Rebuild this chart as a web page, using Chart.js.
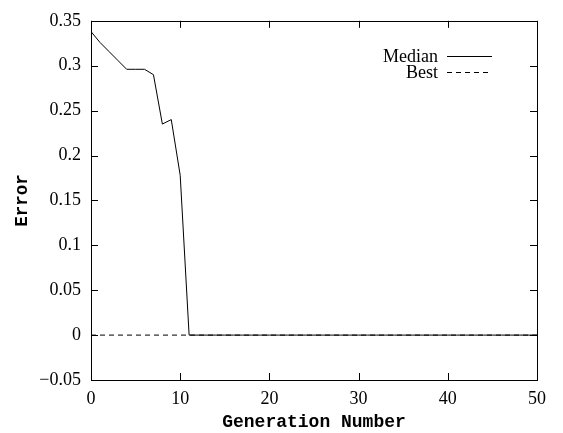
<!DOCTYPE html>
<html>
<head>
<meta charset="utf-8">
<script src="https://cdn.jsdelivr.net/npm/chart.js@4.4.1/dist/chart.umd.min.js"></script>
<style>
  html, body { margin: 0; padding: 0; background: #fff; }
  #wrap { width: 563px; height: 433px; }
</style>
</head>
<body>
<div id="wrap"><canvas id="errChart" width="563" height="433"></canvas></div>
<script>
const generations = [0, 1, 2, 3, 4, 5, 6, 7, 8, 9, 10, 11, 12, 13, 14, 15, 16, 17, 18, 19, 20,
    21, 22, 23, 24, 25, 26, 27, 28, 29, 30, 31, 32, 33, 34, 35, 36, 37, 38, 39, 40,
    41, 42, 43, 44, 45, 46, 47, 48, 49, 50];

const medianError = [0.338, 0.326, 0.316, 0.306, 0.296, 0.296, 0.296, 0.290, 0.235, 0.240, 0.178, 0,
    0, 0, 0, 0, 0, 0, 0, 0, 0, 0, 0, 0, 0, 0, 0, 0, 0, 0, 0,
    0, 0, 0, 0, 0, 0, 0, 0, 0, 0, 0, 0, 0, 0, 0, 0, 0, 0, 0, 0];

const bestError = [0, 0, 0, 0, 0, 0, 0, 0, 0, 0, 0, 0,
    0, 0, 0, 0, 0, 0, 0, 0, 0, 0, 0, 0, 0, 0, 0, 0, 0, 0, 0,
    0, 0, 0, 0, 0, 0, 0, 0, 0, 0, 0, 0, 0, 0, 0, 0, 0, 0, 0, 0];

const seriesNames = ["Median", "Best"];
const xTitle = "Generation Number";
const yTitle = "Error";

const serif = "'Liberation Serif', 'Times New Roman', serif";
const mono = "'Liberation Mono', 'Courier New', monospace";

Chart.defaults.font.family = serif;
Chart.defaults.font.size = 18;
Chart.defaults.color = '#000';

const toPoints = (ys) => generations.map((g, i) => ({ x: g, y: ys[i] }));

// box round the plot with inward ticks on all four sides, plus the gnuplot-style key
const framePlugin = {
    id: 'frame',
    afterDatasetsDraw(chart) {
        const ctx = chart.ctx;
        const a = chart.chartArea;
        const xs = chart.scales.x, ys = chart.scales.y;
        const tl = 7;
        ctx.save();
        ctx.strokeStyle = '#000';
        ctx.lineWidth = 1;
        ctx.setLineDash([]);
        ctx.beginPath();
        xs.ticks.forEach(t => {
            const px = Math.round(xs.getPixelForValue(t.value)) + 0.5;
            ctx.moveTo(px, a.bottom); ctx.lineTo(px, a.bottom - tl);
            ctx.moveTo(px, a.top); ctx.lineTo(px, a.top + tl);
        });
        ys.ticks.forEach(t => {
            const py = Math.round(ys.getPixelForValue(t.value)) + 0.5;
            ctx.moveTo(a.left, py); ctx.lineTo(a.left + tl, py);
            ctx.moveTo(a.right, py); ctx.lineTo(a.right - tl, py);
        });
        ctx.stroke();
        ctx.strokeRect(Math.round(a.left) + 0.5, Math.round(a.top) + 0.5,
            Math.round(a.right - a.left), Math.round(a.bottom - a.top));

        // key
        ctx.font = '18px ' + serif;
        ctx.fillStyle = '#000';
        ctx.textAlign = 'right';
        ctx.textBaseline = 'middle';
        chart.data.datasets.forEach((ds, i) => {
            const y = 56.5 + i * 16;
            ctx.fillText(ds.label, 438, y + 1);
            ctx.setLineDash(ds.borderDash || []);
            ctx.beginPath();
            ctx.moveTo(447, y);
            ctx.lineTo(492, y);
            ctx.stroke();
        });
        ctx.restore();
    }
};

function drawChart() {
    new Chart(document.getElementById('errChart').getContext('2d'), {
        type: 'line',
        data: {
            datasets: [{
                label: seriesNames[0],
                data: toPoints(medianError),
                borderColor: '#000',
                borderWidth: 1,
                pointRadius: 0,
                tension: 0,
                fill: false
            }, {
                label: seriesNames[1],
                data: toPoints(bestError),
                borderColor: '#000',
                borderWidth: 1,
                borderDash: [5, 4],
                pointRadius: 0,
                tension: 0,
                fill: false
            }]
        },
        options: {
            responsive: false,
            animation: false,
            layout: { padding: { left: 0, right: 26, top: 11, bottom: 0 } },
            plugins: {
                legend: { display: false },
                tooltip: { enabled: false }
            },
            scales: {
                x: {
                    type: 'linear',
                    min: 0,
                    max: 50,
                    grid: { display: false, drawTicks: false },
                    border: { display: false },
                    ticks: {
                        stepSize: 10,
                        padding: 8,
                        color: '#000',
                        maxRotation: 0,
                        font: { family: serif, size: 18 }
                    },
                    title: {
                        display: true,
                        text: xTitle,
                        color: '#000',
                        padding: { top: 0, bottom: 0 },
                        font: { family: mono, size: 18, weight: 'bold' }
                    },
                    afterFit(scale) { scale.height = 53; }
                },
                y: {
                    min: -0.05,
                    max: 0.35,
                    grid: { display: false, drawTicks: false },
                    border: { display: false },
                    ticks: {
                        stepSize: 0.05,
                        padding: 10,
                        color: '#000',
                        font: { family: serif, size: 18 },
                        callback: (v) => String(parseFloat(v.toFixed(2))).replace('-', '\u2212')
                    },
                    title: {
                        display: true,
                        text: yTitle,
                        color: '#000',
                        padding: { top: 12, bottom: 0 },
                        font: { family: mono, size: 17.5, weight: 'bold' }
                    },
                    afterFit(scale) { scale.width = 91; }
                }
            }
        },
        plugins: [framePlugin]
    });
}

// make sure the system fonts are ready before the canvas uses them
Promise.all([
    document.fonts.load("18px 'Liberation Serif'"),
    document.fonts.load("bold 18px 'Liberation Mono'")
]).then(drawChart, drawChart);
</script>
</body>
</html>
